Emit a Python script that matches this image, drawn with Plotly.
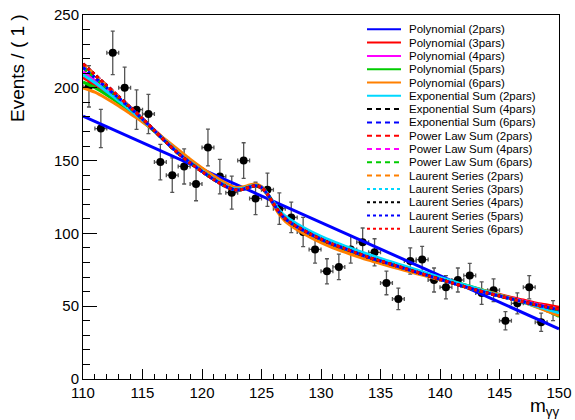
import numpy as np
import plotly.graph_objects as go

# ---------------- data ----------------
bin_centers = [110.5 + i for i in range(40)]
counts = [201, 172, 224, 200, 185, 182, 149, 140, 146, 134,
          159, 139, 128, 150, 124, 130, 117, 111, 101, 89,
          74, 77, 89, 94, 87, 66, 55, 81, 82, 68,
          63, 68, 71, 59, 61, 40, 52, 63, 39, 47]

# fit curves, sampled on a common mass grid
mgg = [110, 111, 112, 113, 114, 115, 116, 117, 118, 119, 120, 121, 122,
       122.5, 123, 123.5, 124, 124.5, 125, 125.5, 126, 126.5, 127, 127.5,
       128, 129, 130, 131, 132, 133, 134, 135, 136, 137, 138, 139, 140,
       141, 142, 143, 144, 145, 146, 147, 148, 149, 150]

poly2_x = [110, 150]
poly2_y = [180.5, 34.5]

poly3 = [207, 202, 196.5, 190.5, 184.5, 178, 171, 163.5, 156.5, 150, 144.5, 139, 134,
         132, 131, 131.2, 132, 132.5, 131, 126.8, 120.5, 114.8, 110.3, 107.3,
         104.8, 100.3, 96.3, 92.8, 89.8, 86.8, 84, 81.5, 79, 76.5, 74, 71.5, 69,
         66.7, 64.4, 62.2, 60, 58, 56, 54.2, 52.3, 50.8, 49.3]
poly4 = [211, 205, 198.5, 192, 185.5, 178.5, 171, 163, 155.5, 149, 143, 137.5, 132.8,
         131, 130.3, 130.7, 131.8, 132.6, 131.3, 127, 120.5, 114.6, 110.1, 107.1,
         104.6, 100.1, 96.1, 92.6, 89.6, 86.6, 83.7, 81.1, 78.6, 76.1, 73.6, 71.1, 68.7,
         66.3, 64, 61.8, 59.6, 57.5, 55.5, 53.5, 51.5, 49.7, 48]
poly5 = [204, 200, 195, 189.5, 183.5, 177, 170, 162.5, 155.5, 149, 143, 137.5, 132.5,
         130.7, 130, 130.6, 131.8, 132.6, 131.2, 126.8, 120, 113.8, 109, 105.8,
         103.4, 99, 95.2, 91.7, 88.7, 85.8, 83.1, 80.6, 78.2, 75.9, 73.7, 71.5, 69.3,
         67.1, 64.9, 62.6, 60.2, 57.8, 55.3, 52.7, 50, 46.8, 43]
poly6 = [200, 197, 192.5, 187.5, 182, 176.5, 170.5, 164, 157.5, 151, 145, 139.5, 134.5,
         132.3, 131.5, 132, 133.3, 134, 132.2, 127, 119.5, 113, 108.3, 105.2,
         102.5, 97.7, 93.6, 90.1, 87.1, 84.3, 81.6, 79.2, 76.9, 74.7, 72.5, 70.3, 68.2,
         66.2, 64.2, 62.2, 60, 57.7, 55.2, 52.6, 49.7, 46.7, 43.5]
exp2 = [209, 203.5, 197.5, 191, 184.5, 178, 170.5, 163, 155.5, 149, 143, 137.5, 132.8,
        131, 130.5, 131, 132.3, 133, 131.8, 127.5, 121.5, 116, 111.8, 109,
        106.5, 102, 98, 94.5, 91.3, 88.3, 85.5, 82.8, 80.2, 77.6, 75, 72.4, 69.8,
        67.3, 64.8, 62.3, 59.8, 57.4, 55, 52.6, 50.2, 47.8, 45.5]
bkg_main = [214, 207, 200, 193, 186, 178.5, 170.5, 162.5, 155, 148.5, 142.5, 137, 132.2,
            130.5, 129.8, 130.4, 131.8, 132.8, 131.5, 127, 120.5, 114.5, 110, 107,
            104.5, 100, 96, 92.5, 89.5, 86.5, 83.5, 81, 78.5, 76, 73.5, 71, 68.5,
            66, 63.5, 61.2, 59, 57, 55, 53, 51, 49.2, 47.5]
bkg_alt = [216.5, 209, 201.5, 194, 186.5, 178.8, 170.6, 162.5, 155, 148.5, 142.5, 137, 132.2,
           130.5, 129.8, 130.4, 131.8, 132.8, 131.5, 127, 120.5, 114.5, 110, 107,
           104.5, 100, 96, 92.5, 89.5, 86.5, 83.5, 81, 78.5, 76, 73.5, 71, 68.5,
           66, 63.5, 61.2, 59, 57, 55, 53, 51, 49.4, 48]

BLUE, RED, MAG, GRN, ORG, CYA, BLK = ("#0000ff", "#ff0000", "#ff00ff", "#00cc00",
                                      "#ff8000", "#00d8ff", "#000000")
DASH = "5px,4px"
DOT = "3px,3px"

curves = [
    ("Polynomial (2pars)", poly2_x, poly2_y, BLUE, "solid"),
    ("Polynomial (3pars)", mgg, poly3, RED, "solid"),
    ("Polynomial (4pars)", mgg, poly4, MAG, "solid"),
    ("Polynomial (5pars)", mgg, poly5, GRN, "solid"),
    ("Polynomial (6pars)", mgg, poly6, ORG, "solid"),
    ("Exponential Sum (2pars)", mgg, exp2, CYA, "solid"),
    ("Exponential Sum (4pars)", mgg, bkg_main, BLK, DASH),
    ("Exponential Sum (6pars)", mgg, bkg_alt, BLUE, DASH),
    ("Power Law Sum (2pars)", mgg, bkg_main, RED, DASH),
    ("Power Law Sum (4pars)", mgg, bkg_alt, MAG, DASH),
    ("Power Law Sum (6pars)", mgg, bkg_main, GRN, DASH),
    ("Laurent Series (2pars)", mgg, bkg_alt, ORG, DASH),
    ("Laurent Series (3pars)", mgg, bkg_main, CYA, DOT),
    ("Laurent Series (4pars)", mgg, bkg_alt, BLK, DOT),
    ("Laurent Series (5pars)", mgg, bkg_main, BLUE, DOT),
    ("Laurent Series (6pars)", mgg, bkg_alt, RED, DOT),
]

FONT = "Liberation Sans, Arial, sans-serif"

fig = go.Figure()

errs = np.sqrt(np.array(counts, dtype=float))
fig.add_trace(go.Scatter(
    x=bin_centers, y=counts, mode="markers",
    marker=dict(color="black", size=8),
    error_y=dict(type="data", array=errs, color="#555555", thickness=1.3, width=2),
    error_x=dict(type="constant", value=0.5, color="#555555", thickness=1.3, width=2),
    showlegend=False, hoverinfo="x+y"))

for name, xs, ys, col, dash in curves:
    fig.add_trace(go.Scatter(
        x=xs, y=ys, mode="lines", name=name,
        line=dict(color=col, width=3, dash=dash, shape="spline", smoothing=0.8),
        showlegend=False))

# ------------- manual legend (compact ROOT-style) -------------
L, T, W, H = 83, 15, 476, 364
def px2paper(px, py):
    return (px - L) / W, 1 - (py - T) / H

shapes = []
annotations = []
for i, (name, xs, ys, col, dash) in enumerate(curves):
    py = 29.3 + i * 13.3
    x0, y0 = px2paper(367, py)
    x1, _ = px2paper(401, py)
    xt, _ = px2paper(407, py)
    shapes.append(dict(type="line", xref="paper", yref="paper", x0=x0, x1=x1, y0=y0, y1=y0,
                       line=dict(color=col, width=2, dash=dash)))
    annotations.append(dict(xref="paper", yref="paper", x=xt, y=y0, xanchor="left",
                            yanchor="middle", text=name, showarrow=False,
                            font=dict(family=FONT, size=11.5, color="black")))

# axis titles
tx, ty = px2paper(17, 12)
annotations.append(dict(xref="paper", yref="paper", x=tx, y=ty, xanchor="center", yanchor="top",
                        text="Events / ( 1 )", textangle=-90, showarrow=False,
                        font=dict(family=FONT, size=19, color="black")))
mx, my = px2paper(561, 407)
annotations.append(dict(xref="paper", yref="paper", x=mx, y=my, xanchor="right", yanchor="middle",
                        text="m<sub>γγ</sub>", showarrow=False,
                        font=dict(family=FONT, size=19, color="black")))

fig.update_layout(
    template="none",
    width=575, height=420,
    margin=dict(l=L, r=575 - L - W, t=T, b=420 - T - H, autoexpand=False),
    paper_bgcolor="white", plot_bgcolor="white",
    showlegend=False,
    shapes=shapes, annotations=annotations,
    font=dict(family=FONT, color="black"),
)
fig.update_xaxes(range=[110, 150], dtick=5, tick0=110, showgrid=False, zeroline=False,
                 automargin=False,
                 showline=True, linecolor="black", linewidth=1, mirror=True,
                 ticks="inside", ticklen=10, tickcolor="black",
                 minor=dict(dtick=1, ticks="inside", ticklen=5, tickcolor="black", showgrid=False),
                 tickfont=dict(family=FONT, size=15, color="black"))
fig.update_yaxes(range=[0, 250], dtick=50, tick0=0, showgrid=False, zeroline=False,
                 automargin=False,
                 showline=True, linecolor="black", linewidth=1, mirror=True,
                 ticks="inside", ticklen=14, tickcolor="black",
                 minor=dict(dtick=10, ticks="inside", ticklen=7, tickcolor="black", showgrid=False),
                 tickfont=dict(family=FONT, size=15, color="black"))

fig.write_html("out.html")
